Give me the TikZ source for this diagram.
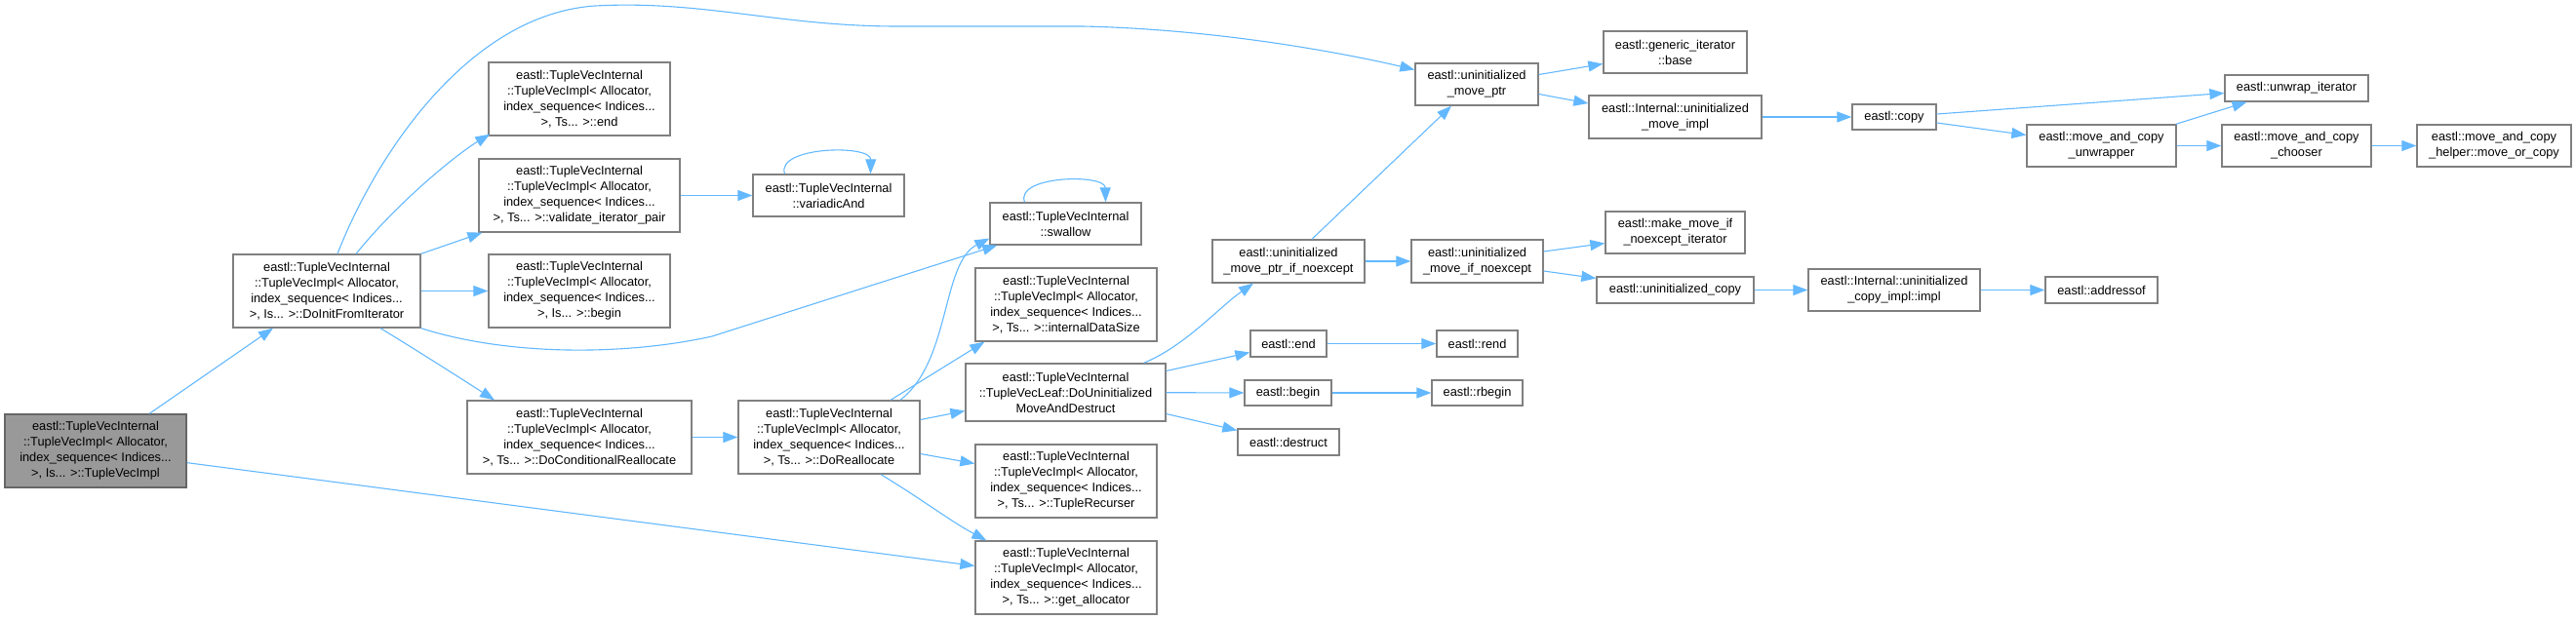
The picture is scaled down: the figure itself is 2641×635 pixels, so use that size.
\documentclass[tikz,border=0pt]{standalone}
\usepackage{fontspec}
\setmainfont{Liberation Sans}
\usetikzlibrary{arrows.meta,calc}
\definecolor{EdgeBlue}{RGB}{99,184,255}
\definecolor{BoxLine}{RGB}{128,128,128}
\definecolor{RootGray}{RGB}{153,153,153}
\newcommand{\tvimpl}[2]{eastl::TupleVecInternal\\::TupleVecImpl< Allocator,\\index\_sequence< Indices...\\>, #1... >::#2}
\tikzset{
  fn node/.style={
    draw=BoxLine,
    fill=white,
    line width=1.3pt,
    inner sep=0pt,
    align=center,
    font=\fontsize{12.8}{16}\selectfont,
  },
  root node/.style={
    fn node,
    fill=RootGray,
    draw=black!60,
  },
  call/.style={-{Triangle[length=15pt,width=11pt]},EdgeBlue,line width=1.1pt},
}

\begin{document}
\begin{tikzpicture}[x=1pt,y=-1pt]
\useasboundingbox (0,0) rectangle (2641,635);

% Caller and first level.
\node[root node,minimum width=186,minimum height=75] (root) at (98,462.5) {\tvimpl{Is}{TupleVecImpl}};
\node[fn node,minimum width=192,minimum height=75] (dinit) at (335,298.5) {\tvimpl{Is}{DoInitFromIterator}};

% TupleVecImpl members.
\node[fn node,minimum width=186,minimum height=75] (implEnd) at (594,101.5) {\tvimpl{Ts}{end}};
\node[fn node,minimum width=206,minimum height=75] (vip) at (594,200.5) {\tvimpl{Ts}{validate\_iterator\_pair}};
\node[fn node,minimum width=186,minimum height=75] (implBegin) at (594,298.5) {\tvimpl{Is}{begin}};
\node[fn node,minimum width=230,minimum height=75] (dcr) at (594,448.5) {\tvimpl{Ts}{DoConditionalReallocate}};
\node[fn node,minimum width=155,minimum height=43] (varAnd) at (849.5,200.5) {eastl::TupleVecInternal\\::variadicAnd};
\node[fn node,minimum width=186,minimum height=75] (doRealloc) at (850,448.5) {\tvimpl{Ts}{DoReallocate}};

\node[fn node,minimum width=155,minimum height=43] (swallow) at (1092.5,229.5) {eastl::TupleVecInternal\\::swallow};
\node[fn node,minimum width=186,minimum height=75] (ids) at (1093,312.5) {\tvimpl{Ts}{internalDataSize}};
\node[fn node,minimum width=205,minimum height=59] (dumad) at (1092.5,402.5) {eastl::TupleVecInternal\\::TupleVecLeaf::DoUninitialized\\MoveAndDestruct};
\node[fn node,minimum width=186,minimum height=75] (recurser) at (1093,493.5) {\tvimpl{Ts}{TupleRecurser}};
\node[fn node,minimum width=186,minimum height=75] (getAlloc) at (1093,592.5) {\tvimpl{Ts}{get\_allocator}};

% eastl helpers.
\node[fn node,minimum width=156,minimum height=44] (umpin) at (1321,268) {eastl::uninitialized\\\_move\_ptr\_if\_noexcept};
\node[fn node,minimum width=78,minimum height=27] (end) at (1321,352.5) {eastl::end};
\node[fn node,minimum width=89,minimum height=26] (begin) at (1320.5,403) {eastl::begin};
\node[fn node,minimum width=104,minimum height=27] (destruct) at (1321,453.5) {eastl::destruct};

\node[fn node,minimum width=126,minimum height=43] (ump) at (1514,86.5) {eastl::uninitialized\\\_move\_ptr};
\node[fn node,minimum width=135,minimum height=44] (umin) at (1514.5,268) {eastl::uninitialized\\\_move\_if\_noexcept};
\node[fn node,minimum width=83,minimum height=27] (rend) at (1514.5,352.5) {eastl::rend};
\node[fn node,minimum width=93,minimum height=26] (rbegin) at (1514.5,403) {eastl::rbegin};

\node[fn node,minimum width=147,minimum height=43] (gib) at (1717.5,53.5) {eastl::generic\_iterator\\::base};
\node[fn node,minimum width=177,minimum height=44] (umi) at (1717.5,120) {eastl::Internal::uninitialized\\\_move\_impl};
\node[fn node,minimum width=143,minimum height=43] (mmi) at (1717.5,238.5) {eastl::make\_move\_if\\\_noexcept\_iterator};
\node[fn node,minimum width=161,minimum height=27] (ucopy) at (1717.5,297.5) {eastl::uninitialized\_copy};

\node[fn node,minimum width=86,minimum height=26] (copy) at (1942,120) {eastl::copy};
\node[fn node,minimum width=176,minimum height=43] (ucii) at (1942,297.5) {eastl::Internal::uninitialized\\\_copy\_impl::impl};
\node[fn node,minimum width=153,minimum height=43] (mcu) at (2154.5,149.5) {eastl::move\_and\_copy\\\_unwrapper};
\node[fn node,minimum width=115,minimum height=27] (addressof) at (2154.5,297.5) {eastl::addressof};
\node[fn node,minimum width=147,minimum height=27] (uwi) at (2354.5,90.5) {eastl::unwrap\_iterator};
\node[fn node,minimum width=153,minimum height=43] (mcc) at (2354.5,149.5) {eastl::move\_and\_copy\\\_chooser};
\node[fn node,minimum width=158,minimum height=43] (mch) at (2557,149.5) {eastl::move\_and\_copy\\\_helper::move\_or\_copy};

% Straight calls.
\foreach \a/\b in {root/dinit,root/getAlloc,dinit/implBegin,vip/varAnd,dcr/doRealloc,dumad/begin,umpin/umin,end/rend,begin/rbegin,umi/copy,ucopy/ucii,ucii/addressof,mcu/mcc,mcc/mch}
  \draw[call] (\a) -- (\b);

% Calls leaving DoInitFromIterator.
\draw[call] ($(dinit.north)+(11,0)$) .. controls (385,160) and (480,15) .. (610,6) .. controls (720,0) and (800,27) .. (920,27) -- (1110,27) .. controls (1250,30) and (1380,55) .. ($(ump.west)+(0,-15)$);
\draw[call] ($(dinit.north)+(30,0)$) .. controls (410,205) and (470,157) .. ($(implEnd.south west)+(2,-2)$);
\draw[call] (dinit.north east) -- ($(vip.south west)+(4,0)$);
\draw[call] (dinit.south east) .. controls (520,365) and (640,365) .. (730,345) -- ($(swallow.south west)+(8,0)$);
\draw[call] ($(dinit.south)+(55,0)$) .. controls (430,361) and (480,393) .. ($(dcr.north)+(-87,0)$);

% Recursion loops.
\draw[call] ($(varAnd.north)+(-45,0)$) .. controls (795,150) and (893,148) .. ($(varAnd.north)+(43,0)$);
\draw[call] ($(swallow.north)+(-42,0)$) .. controls (1040,180) and (1133,178) .. ($(swallow.north)+(41,0)$);

% Calls leaving DoReallocate.
\draw[call] ($(doRealloc.north)+(73,0)$) .. controls (975,370) and (965,270) .. ($(swallow.west)+(0,15)$);
\draw[call] ($(doRealloc.north)+(63,0)$) -- ($(ids.south west)+(10,0)$);
\draw[call] ($(doRealloc.east)+(0,-18)$) -- ($(dumad.west)+(0,19)$);
\draw[call] ($(doRealloc.east)+(0,17)$) -- ($(recurser.west)+(0,-18)$);
\draw[call] ($(doRealloc.south)+(53,0)$) .. controls (945,512) and (975,535) .. ($(getAlloc.north west)+(12,0)$);

% Calls leaving DoUninitializedMoveAndDestruct.
\draw[call] ($(dumad.north)+(80,0)$) .. controls (1215,355) and (1250,315) .. ($(umpin.south)+(-36,0)$);
\draw[call] ($(dumad.east)+(0,-22)$) -- ($(end.west)+(0,9)$);
\draw[call] ($(dumad.east)+(0,22)$) -- ($(destruct.west)+(0,-12)$);

% eastl helper calls.
\draw[call] ($(umpin.north)+(24,0)$) -- ($(ump.south)+(-26,0)$);
\draw[call] ($(ump.east)+(0,-10)$) -- ($(gib.west)+(0,12)$);
\draw[call] ($(ump.east)+(0,10)$) -- ($(umi.west)+(0,-14)$);
\draw[call] ($(umin.east)+(0,-10)$) -- ($(mmi.west)+(0,11)$);
\draw[call] ($(umin.east)+(0,10)$) -- ($(ucopy.west)+(0,-12)$);
\draw[call] ($(copy.east)+(0,-3)$) -- ($(uwi.west)+(0,5)$);
\draw[call] ($(copy.east)+(0,6)$) -- ($(mcu.west)+(0,-11)$);
\draw[call] ($(mcu.north east)+(-1,0)$) -- ($(uwi.south)+(-51,0)$);

\end{tikzpicture}
\end{document}
